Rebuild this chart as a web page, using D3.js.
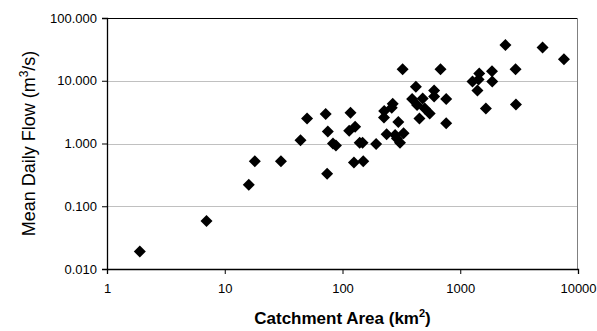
<!DOCTYPE html>
<html>
<head>
<meta charset="utf-8">
<script src="https://cdn.jsdelivr.net/npm/d3@7"></script>
<style>
  body { margin: 0; background: #fff; }
  svg { font-family: "Liberation Sans", Arial, sans-serif; }
</style>
</head>
<body>
<div id="chart"></div>
<script>
// catchment area (km2) and mean daily flow (m3/s)
const areas = [1.9, 7, 16, 18, 30, 44, 50, 72, 74, 75, 83, 88, 114, 117, 125, 128, 140, 148, 150, 193,
  225, 226, 237, 262, 267, 280, 290, 298, 308, 324, 330, 390, 420, 430, 450, 480, 500, 550, 600, 600,
  680, 760, 760, 1270, 1400, 1430, 1450, 1650, 1860, 1870, 2420, 2950, 2970, 5000, 7600];
const flows = [0.019, 0.058, 0.22, 0.52, 0.52, 1.13, 2.5, 2.95, 0.33, 1.56, 1.0, 0.93, 1.6, 3.1, 0.5, 1.85, 1.03, 1.03, 0.52, 0.98,
  2.6, 3.3, 1.4, 3.7, 4.3, 1.37, 1.2, 2.2, 1.03, 15.2, 1.45, 5.1, 8.0, 4.1, 2.5, 5.2, 3.6, 3.0, 7.0, 5.6,
  15.2, 5.1, 2.1, 9.7, 7.0, 10.5, 13.0, 3.6, 14.2, 9.7, 37, 15.2, 4.2, 34, 22];
const xTicks = [1, 10, 100, 1000, 10000];
const yTicks = [0.01, 0.1, 1, 10, 100];

const width = 597, height = 331;
const margin = { top: 18, right: 19, bottom: 62, left: 107 };
const w = width - margin.left - margin.right;
const h = height - margin.top - margin.bottom;

const svg = d3.select("#chart").append("svg")
  .attr("width", width)
  .attr("height", height);

const g = svg.append("g")
  .attr("transform", "translate(" + margin.left + "," + margin.top + ")");

const x = d3.scaleLog().domain([1, 10000]).range([0, w]);
const y = d3.scaleLog().domain([0.01, 100]).range([h, 0]);

// gridlines
g.selectAll(".grid")
  .data(yTicks.filter(d => d > 0.01 && d < 100))
  .enter().append("line")
  .attr("x1", 0).attr("x2", w)
  .attr("y1", d => Math.round(y(d)) + 0.5).attr("y2", d => Math.round(y(d)) + 0.5)
  .attr("stroke", "#c0c0c0");

// plot border (top + right)
g.append("line").attr("x1", 0).attr("x2", w).attr("y1", 0.5).attr("y2", 0.5).attr("stroke", "#000");
g.append("line").attr("x1", w - 0.5).attr("x2", w - 0.5).attr("y1", 0).attr("y2", h).attr("stroke", "#808080");

// axes
const xAxis = d3.axisBottom(x).tickValues(xTicks).tickFormat(d3.format("d")).tickSizeOuter(0).tickSize(5).tickPadding(10);
const yAxis = d3.axisLeft(y).tickValues(yTicks).tickFormat(d3.format(".3f")).tickSizeOuter(0).tickSize(5).tickPadding(5);

const gx = g.append("g").attr("transform", "translate(0," + h + ")").call(xAxis);
const gy = g.append("g").call(yAxis);
[gx, gy].forEach(a => {
  a.select(".domain").attr("stroke", "#000").attr("stroke-width", 1.3);
  a.selectAll(".tick line").attr("stroke", "#000");
  a.selectAll("text").attr("font-size", 13).attr("fill", "#000")
    .attr("font-family", "'Liberation Sans', Arial, sans-serif");
});

// points
const data = areas.map((a, i) => ({ area: a, flow: flows[i] }));
const r = 6;
g.selectAll(".pt")
  .data(data)
  .enter().append("path")
  .attr("class", "pt")
  .attr("d", "M0," + (-r) + "L" + r + ",0L0," + r + "L" + (-r) + ",0Z")
  .attr("transform", d => "translate(" + x(d.area) + "," + y(d.flow) + ")")
  .attr("fill", "#000");

// axis labels
const xl = svg.append("text")
  .attr("x", margin.left + w / 2)
  .attr("y", 324)
  .attr("text-anchor", "middle")
  .attr("font-size", 17)
  .attr("font-weight", "bold");
xl.append("tspan").text("Catchment Area (km");
xl.append("tspan").attr("font-size", 11).attr("dy", -7).text("2");
xl.append("tspan").attr("dy", 7).text(")");

const yl = svg.append("text")
  .attr("transform", "translate(35," + (margin.top + h / 2) + ") rotate(-90)")
  .attr("text-anchor", "middle")
  .attr("font-size", 18);
yl.append("tspan").text("Mean Daily Flow (m");
yl.append("tspan").attr("font-size", 12).attr("dy", -7).text("3");
yl.append("tspan").attr("dy", 7).text("/s)");
</script>
</body>
</html>
